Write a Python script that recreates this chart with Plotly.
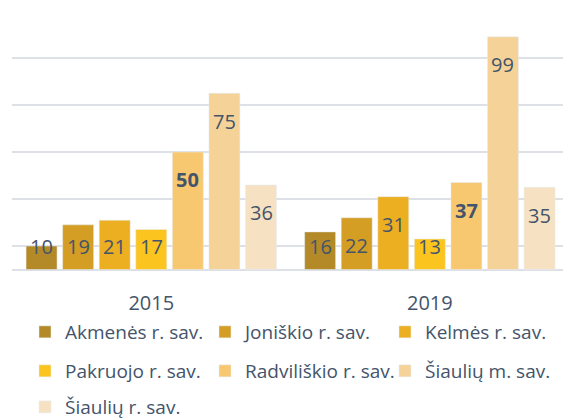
import plotly.graph_objects as go

# Categories (years) and municipality series
years = ["2015", "2019"]
municipalities = [
    "Akmenės r. sav.",
    "Joniškio r. sav.",
    "Kelmės r. sav.",
    "Pakruojo r. sav.",
    "Radviliškio r. sav.",
    "Šiaulių m. sav.",
    "Šiaulių r. sav.",
]
akmenes = [10, 16]
joniskio = [19, 22]
kelmes = [21, 31]
pakruojo = [17, 13]
radviliskio = [50, 37]
siauliu_m = [75, 99]
siauliu_r = [36, 35]

series = [akmenes, joniskio, kelmes, pakruojo, radviliskio, siauliu_m, siauliu_r]
colors = ["#B48A28", "#D49D24", "#EDAF22", "#FCC41E", "#F8C870", "#F5D398", "#F6E1C2"]
bold_series = {"Radviliškio r. sav."}
legend_ids = ["legend", "legend", "legend", "legend2", "legend2", "legend2", "legend3"]

TEXT = "#44546A"
GRID = "#DDE1E7"
FONT = "Open Sans"
BARGAP = 0.081

W, H = 563, 419
ML, MR, MT, MB = 12, 0, 11, 126
plot_w = W - ML - MR
plot_h = H - MT - MB

fig = go.Figure()
for name, vals, col, leg in zip(municipalities, series, colors, legend_ids):
    fig.add_trace(go.Bar(
        x=years, y=vals, name=name, marker_color=col,
        legend=leg, hoverinfo="x+y+name",
    ))

# Value labels sit inside the top of each bar (kept above the axis on short bars)
n = len(series)
slot = (1 - BARGAP) / n
for j, (name, vals) in enumerate(zip(municipalities, series)):
    for i, v in enumerate(vals):
        txt = f"<b>{v}</b>" if name in bold_series else str(v)
        fig.add_annotation(
            x=i + (j - (n - 1) / 2) * slot, y=max(v - 11.9, 10),
            xref="x", yref="y", text=txt, showarrow=False,
            font=dict(family=FONT, size=20, color=TEXT),
            xanchor="center", yanchor="middle",
        )


def px_x(px):
    return (px - ML) / plot_w


def px_y(py):
    return (H - MB - py) / plot_h


legend_common = dict(
    orientation="h", xanchor="left", yanchor="middle",
    font=dict(family=FONT, size=19, color=TEXT),
    entrywidth=135, entrywidthmode="pixels",
    bgcolor="rgba(0,0,0,0)", borderwidth=0, itemclick=False,
)

LEG_X = 25
fig.update_layout(
    width=W, height=H,
    margin=dict(l=ML, r=MR, t=MT, b=MB, pad=0, autoexpand=False),
    paper_bgcolor="white", plot_bgcolor="white",
    barmode="group", bargap=BARGAP, bargroupgap=0.153,
    font=dict(family=FONT, color=TEXT),
    xaxis=dict(
        type="category", range=[-0.5, 1.478],
        showgrid=False, showline=False, ticks="", zeroline=False,
        tickfont=dict(family=FONT, size=20, color=TEXT),
        ticklabelstandoff=-4,
    ),
    yaxis=dict(
        range=[-10, 110], tick0=-10, dtick=20,
        showgrid=True, gridcolor=GRID, gridwidth=1.5,
        zeroline=True, zerolinecolor=GRID, zerolinewidth=1.5,
        showticklabels=False, ticks="", showline=False,
    ),
    legend=dict(x=px_x(LEG_X), y=px_y(332), **legend_common),
    legend2=dict(x=px_x(LEG_X), y=px_y(371), **legend_common),
    legend3=dict(x=px_x(LEG_X), y=px_y(407), **legend_common),
    showlegend=True,
)

fig.write_html("out.html")
